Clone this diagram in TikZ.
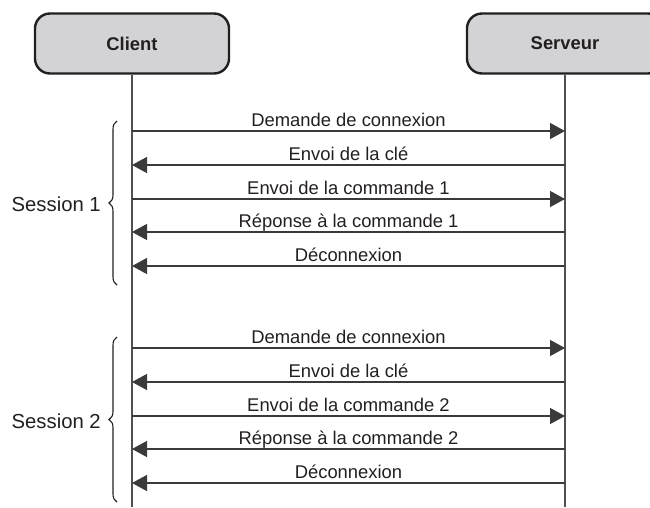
\documentclass[tikz,border=0pt]{standalone}
\usepackage{fontspec}
\setmainfont{Liberation Sans}
\usetikzlibrary{arrows.meta,decorations.pathreplacing}
\definecolor{ink}{HTML}{231F20}
\definecolor{boxfill}{HTML}{D3D3D5}
\definecolor{lineg}{HTML}{3A3A3A}
\definecolor{lifeg}{HTML}{505050}
\begin{document}
\begin{tikzpicture}[x=1pt,y=-1pt,
  actor/.style={draw=ink, line width=2.4pt, fill=boxfill, rounded corners=15pt,
    minimum width=194pt, minimum height=60pt, inner sep=0pt,
    font=\fontsize{18.4}{22}\selectfont\bfseries, text=ink},
  life/.style={draw=lifeg, line width=1.4pt},
  msg/.style={draw=lineg, line width=1.3pt, -{Triangle[length=15pt,width=16pt]}},
  msglabel/.style={midway, anchor=base, yshift=4.5pt, inner sep=0pt,
    font=\fontsize{18.4}{22}\selectfont, text=ink},
  sessbrace/.style={draw=ink, line width=1.1pt, decorate,
    decoration={brace, amplitude=8pt, aspect=0.5}},
  sesslabel/.style={anchor=base east, inner sep=0pt,
    font=\fontsize{20.3}{24}\selectfont, text=ink}
]
\useasboundingbox (0,0) rectangle (650,507);
% actors
\node[actor] (client) at (132,43.5) {Client};
\node[actor, minimum width=196pt] (server) at (565,43.5) {Serveur};
\coordinate (cend) at (132,507);
\coordinate (send) at (565,507);
\draw[life] (client.south) -- (cend);
\draw[life] (server.south) -- (send);
% messages
\foreach \y/\d/\t [count=\i] in {
  131/r/Demande de connexion,
  165/l/Envoi de la clé,
  199/r/Envoi de la commande 1,
  232/l/Réponse à la commande 1,
  266/l/Déconnexion,
  348/r/Demande de connexion,
  382/l/Envoi de la clé,
  416/r/Envoi de la commande 2,
  449/l/Réponse à la commande 2,
  483/l/Déconnexion}{
  \coordinate (c\i) at (132,\y);
  \coordinate (s\i) at (565,\y);
  \if r\d
    \draw[msg] (c\i) -- (s\i) node[msglabel] {\t};
  \else
    \draw[msg] (s\i) -- (c\i) node[msglabel] {\t};
  \fi
}
% sessions
\coordinate (b1top) at (117,121);
\coordinate (b1bot) at (117,285);
\coordinate (b2top) at (117,337);
\coordinate (b2bot) at (117,502);
\draw[sessbrace] (b1bot) -- (b1top);
\draw[sessbrace] (b2bot) -- (b2top);
\node[sesslabel] (sess1) at (101,211.5) {Session 1};
\node[sesslabel] (sess2) at (101,428) {Session 2};
\end{tikzpicture}
\end{document}
